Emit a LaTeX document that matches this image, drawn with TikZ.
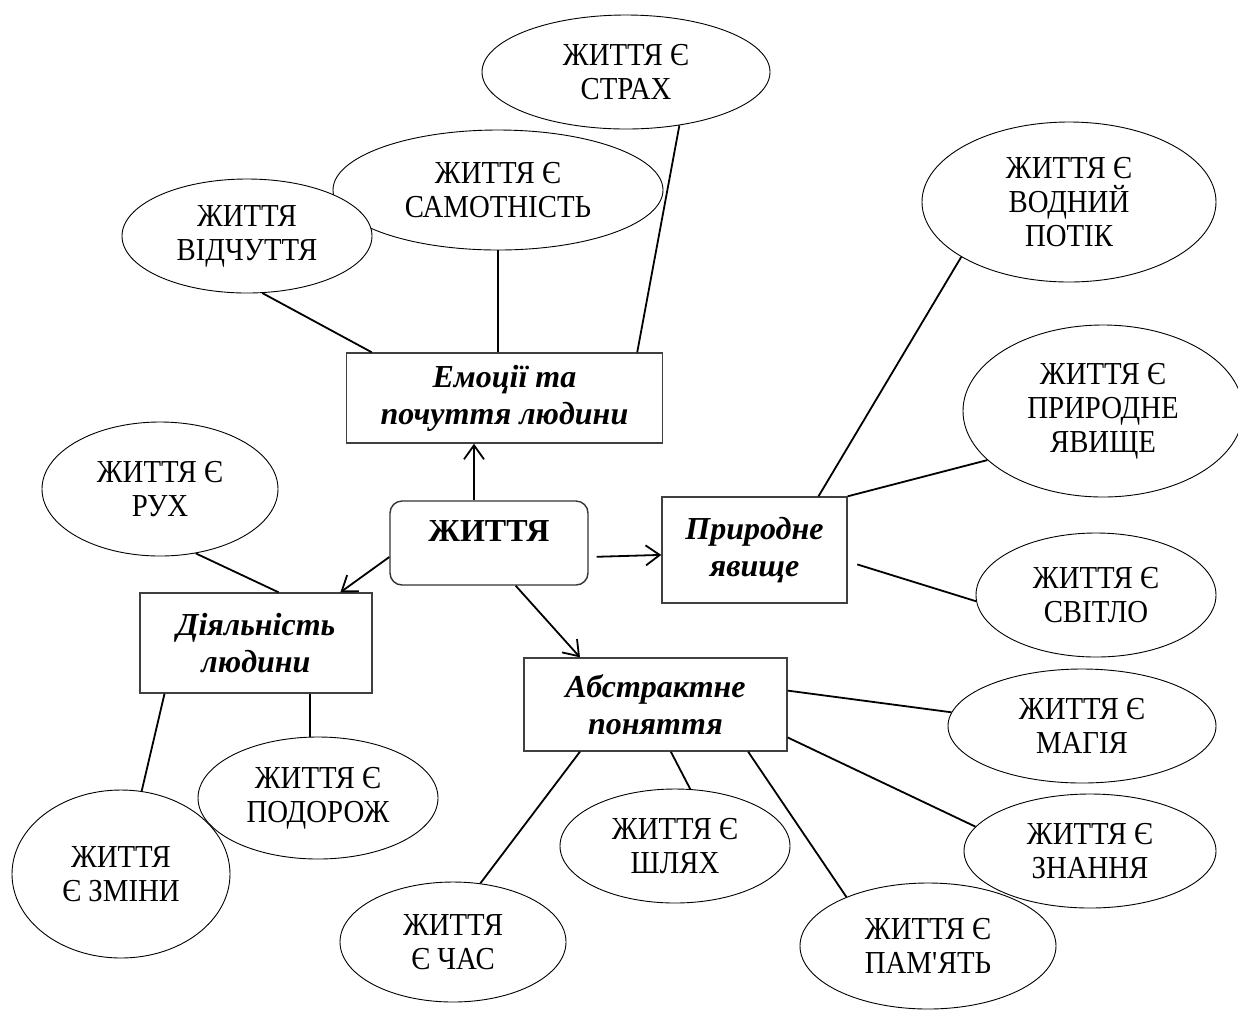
\documentclass[tikz,border=0pt]{standalone}
\usepackage{fontspec}
\setmainfont{Liberation Serif}
\newfontfamily\ideafont[FakeStretch=0.9]{Liberation Serif}
\usetikzlibrary{arrows.meta,shapes.geometric}

\begin{document}
\begin{tikzpicture}[x=0.5pt, y=-0.5pt,
  idea/.style={
    draw, ellipse, fill=white, inner sep=0pt, line width=0.45pt,
    align=center, font=\ideafont\fontsize{16}{17}\selectfont
  },
  group/.style={
    draw=black!75, rectangle, line width=0.7pt, inner sep=0pt,
    align=center, font=\fontsize{16}{18.5}\selectfont\bfseries\itshape
  },
  core/.style={
    draw=black!80, rectangle, rounded corners=6pt, line width=0.7pt,
    minimum width=99pt, minimum height=42pt,
    font=\fontsize{16}{18}\selectfont\bfseries, text height=10pt, text depth=12pt
  },
  arr/.style={-{Straight Barb[length=7pt,width=10pt]}, line width=0.9pt},
  link/.style={line width=0.9pt},
]
\useasboundingbox (0,0) rectangle (1238,1009);

%% ── centre and groups ───────────────────────────────────────────────────────
\node[core] (life) at (489,543) {ЖИТТЯ};
\node[group, minimum width=158pt,   minimum height=45pt]   (emo)  at (504.5,398) {Емоції та\\почуття людини};
\node[group, minimum width=92.5pt,  minimum height=53pt]   (pryr) at (754.5,550) {Природне\\явище};
\node[group, minimum width=116pt,   minimum height=50pt]   (dial) at (256,643)   {Діяльність\\людини};
\node[group, minimum width=131.5pt, minimum height=46.5pt] (abst) at (655.5,704.5) {Абстрактне\\поняття};

%% ── metaphors ───────────────────────────────────────────────────────────────
\node[idea, minimum width=144pt, minimum height=57pt] (strakh) at (626,72)   {ЖИТТЯ Є\\СТРАХ};
\node[idea, minimum width=165pt, minimum height=60pt] (samot)  at (498,190)  {ЖИТТЯ Є\\САМОТНІСТЬ};
\node[idea, minimum width=125pt, minimum height=57pt] (vidch)  at (247,236)  {ЖИТТЯ\\ВІДЧУТТЯ};
\node[idea, minimum width=147pt, minimum height=80pt] (vodn)   at (1069,202) {ЖИТТЯ Є\\ВОДНИЙ\\ПОТІК};
\node[idea, minimum width=140pt, minimum height=86pt] (yavy)   at (1103,411) {ЖИТТЯ Є\\ПРИРОДНЕ\\ЯВИЩЕ};
\node[idea, minimum width=120pt, minimum height=62pt] (svit)   at (1096,595) {ЖИТТЯ Є\\СВІТЛО};
\node[idea, minimum width=118pt, minimum height=67pt] (rukh)   at (160,489)  {ЖИТТЯ Є\\РУХ};
\node[idea, minimum width=120pt, minimum height=61pt] (podor)  at (318,798)  {ЖИТТЯ Є\\ПОДОРОЖ};
\node[idea, minimum width=109pt, minimum height=84pt] (zminy)  at (121,874)  {ЖИТТЯ\\Є ЗМІНИ};
\node[idea, minimum width=113pt, minimum height=60pt] (chas)   at (453,942)  {ЖИТТЯ\\Є ЧАС};
\node[idea, minimum width=115pt, minimum height=57pt] (shl)    at (675,846)  {ЖИТТЯ Є\\ШЛЯХ};
\node[idea, minimum width=128pt, minimum height=63pt] (pam)    at (928,946)  {ЖИТТЯ Є\\ПАМ\textquotesingle ЯТЬ};
\node[idea, minimum width=126pt, minimum height=57pt] (znan)   at (1090,851) {ЖИТТЯ Є\\ЗНАННЯ};
\node[idea, minimum width=134pt, minimum height=57pt] (mag)    at (1082,726) {ЖИТТЯ Є\\МАГІЯ};

%% ── arrows from the centre ──────────────────────────────────────────────────
\draw[arr] ([xshift=-7.5pt]life.north) -- ([xshift=-7.5pt]life.north |- emo.south);
\draw[arr, shorten <=4pt] (life.-8) -- (pryr.183);
\draw[arr] (life.188) -- (dial.31);
\draw[arr] (life.-58) -- (abst.148);

%% ── links ───────────────────────────────────────────────────────────────────
\draw[link] (vidch.-75) -- (emo.161);
\draw[link] (samot.south) -- (samot.south |- emo.north);
\draw[link] (strakh.-45) -- (emo.19);
\draw[link] (pryr.40) -- (vodn.207);
\draw[link] (pryr.north east) -- (yavy.203);
\draw[link, shorten <=5pt] (pryr.-7) -- (svit.183);
\draw[link] (dial.66) -- (rukh.-61);
\draw[link] (dial.209) -- (zminy.76);
\draw[link] ([xshift=27pt]dial.south) -- ([xshift=27pt]dial.south |- podor.north);
\draw[link] (abst.212) -- (chas.65);
\draw[link] (abst.-72) -- (shl.75);
\draw[link] (abst.-27) -- (pam.149);
\draw[link] (abst.6) -- (mag.174);
\draw[link] (abst.-14) -- (znan.168);

\end{tikzpicture}
\end{document}
